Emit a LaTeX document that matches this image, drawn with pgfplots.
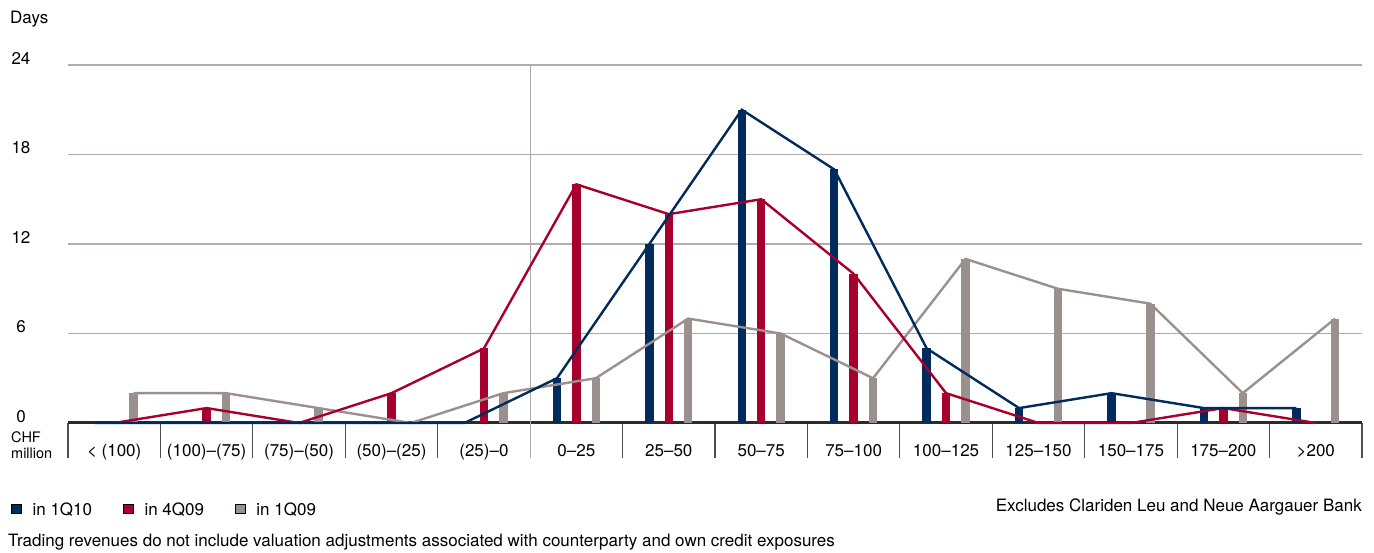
\documentclass[border=0pt]{standalone}
\usepackage{pgfplots}
\pgfplotsset{compat=1.18}
\usepackage{pgfplotstable}
\usepackage{fontspec}
\setmainfont{TeX Gyre Heros}

\definecolor{qblue}{RGB}{0,43,92}
\definecolor{qred}{RGB}{168,0,44}
\definecolor{qgray}{RGB}{154,145,143}
\definecolor{gridgray}{RGB}{178,172,172}
\definecolor{axisdark}{RGB}{45,42,42}
\definecolor{sepdark}{RGB}{80,78,78}

% Number of trading days per daily revenue band (CHF million)
\pgfplotstableread{
band q110 q409 q109
0  0  0  2
1  0  1  2
2  0  0  1
3  0  2  0
4  0  5  2
5  3  16 3
6  12 14 7
7  21 15 6
8  17 10 3
9  5  2  11
10 1  0  9
11 2  0  8
12 1  1  2
13 1  0  7
}\revtable

\begin{document}
\fontsize{17}{20}\selectfont
\begin{tikzpicture}
% axis box: 1294 x 358 pt, its lower left corner at the origin
\begin{axis}[
  scale only axis, width=1294pt, height=358pt,
  xmin=0, xmax=14, ymin=0, ymax=24,
  clip=false,
  axis line style={draw=none},
  xtick pos=bottom, ytick pos=left,
  ytick={0,6,12,18,24},
  ymajorgrids,
  grid style={color=gridgray, line width=1.1pt},
  ytick style={draw=none},
  /pgf/number format/assume math mode=true,
  yticklabel style={anchor=base, xshift=-47pt, yshift=0.5pt, inner sep=0pt},
  xtick={0.5,1.5,...,13.5},
  xticklabels={{< (100)},{(100)--(75)},{(75)--(50)},{(50)--(25)},{(25)--0},
    {0--25},{25--50},{50--75},{75--100},{100--125},{125--150},{150--175},
    {175--200},{>200}},
  xtick style={draw=none},
  major tick length=0pt,
  xticklabel style={anchor=base, yshift=-34pt, inner sep=0pt},
  extra x ticks={0,1,...,14},
  extra x tick labels={},
  extra x tick style={xtick style={draw=sepdark, line width=1.1pt},
    major tick length=35pt, tick align=outside, grid=none},
  legend columns=3,
  legend style={draw=none, fill=none, at={(0,0)}, anchor=west,
    xshift=-57pt, yshift=-87pt, inner sep=0pt,
    nodes={inner sep=0pt, anchor=base west},
    /tikz/every odd column/.append style={column sep=11pt},
    /tikz/every even column/.append style={column sep=31pt}},
  legend image code/.code={\fill[#1] (0pt,2pt) rectangle (10pt,11pt);},
]
% zero line and the boundary between losses and gains
\draw[line width=3pt, axisdark] (axis cs:0,0) -- (axis cs:14,0);
\draw[line width=1.1pt, gridgray] (axis cs:5,0) ++(0,-35pt) -- (axis cs:5,24);

% bars
\addplot[ycomb, qgray, line width=8.5pt, forget plot]
  table[x expr=\thisrow{band}+0.71, y=q109] {\revtable};
\addplot[ycomb, qred, line width=8.5pt, forget plot]
  table[x expr=\thisrow{band}+0.5, y=q409] {\revtable};
\addplot[ycomb, qblue, line width=8.5pt, forget plot]
  table[x expr=\thisrow{band}+0.29, y=q110] {\revtable};

% connecting lines through the bar tops
\addplot[sharp plot, qgray, line width=2.4pt, no marks, forget plot]
  table[x expr=\thisrow{band}+0.71, y=q109] {\revtable};
\addplot[sharp plot, qred, line width=2.4pt, no marks, forget plot]
  table[x expr=\thisrow{band}+0.5, y=q409] {\revtable};
\addplot[sharp plot, qblue, line width=2.4pt, no marks, forget plot]
  table[x expr=\thisrow{band}+0.29, y=q110] {\revtable};

\addlegendimage{fill=qblue}
\addlegendentry{in 1Q10}
\addlegendimage{fill=qred}
\addlegendentry{in 4Q09}
\addlegendimage{fill=qgray}
\addlegendentry{in 1Q09}
\end{axis}

\begin{scope}[x=1pt, y=1pt, shift={(-68pt,423pt)}]
\node[anchor=base west, inner sep=0pt] at (10,-24) {Days};
\node[anchor=base west, inner sep=0pt, font=\fontsize{14.5}{16}\selectfont]
  at (11,-443) {CHF};
\node[anchor=base west, inner sep=0pt, font=\fontsize{14.5}{16}\selectfont]
  at (11,-459) {million};
\node[anchor=base east, inner sep=0pt] at (1362,-512)
  {Excludes Clariden Leu and Neue Aargauer Bank};
\node[anchor=base west, inner sep=0pt] at (8,-547)
  {Trading revenues do not include valuation adjustments associated with counterparty and own credit exposures};
\pgfresetboundingbox
\useasboundingbox (0,0) rectangle (1374,-553);
\end{scope}
\end{tikzpicture}
\end{document}
